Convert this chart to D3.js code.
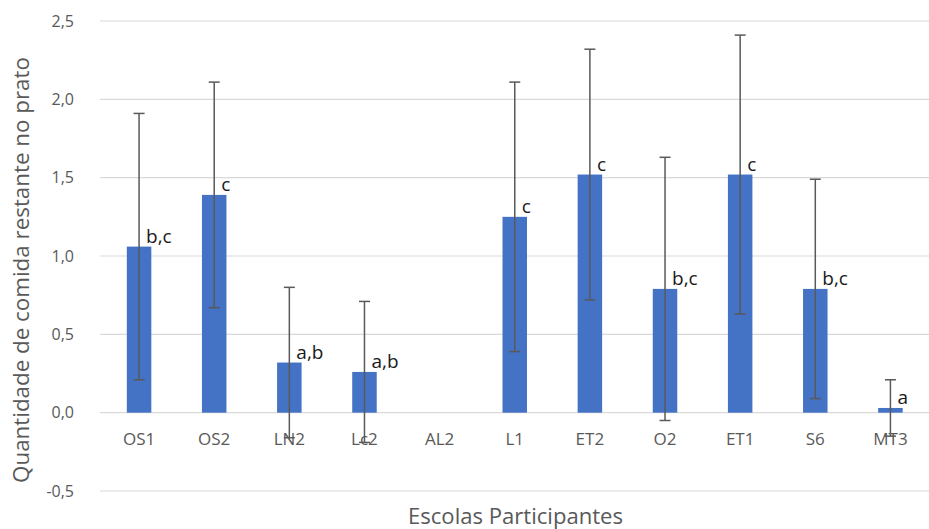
<!DOCTYPE html>
<html>
<head>
<meta charset="utf-8">
<script src="https://cdn.jsdelivr.net/npm/d3@7"></script>
<style>
html,body{margin:0;padding:0;background:#fff;}
svg{display:block;}
text{font-family:"Open Sans","Noto Sans",sans-serif;}
</style>
</head>
<body>
<svg id="chart" width="929" height="529"></svg>
<script>
const categories = ["OS1","OS2","LN2","Lc2","AL2","L1","ET2","O2","ET1","S6","MT3"];
const means      = [1.06, 1.39, 0.32, 0.26, 0, 1.25, 1.52, 0.79, 1.52, 0.79, 0.03];
const errors     = [0.85, 0.72, 0.48, 0.45, null, 0.86, 0.80, 0.84, 0.89, 0.70, 0.18];
const letters    = ["b,c","c","a,b","a,b","","c","c","b,c","c","b,c","a"];
const yTicks     = [-0.5, 0, 0.5, 1.0, 1.5, 2.0, 2.5];
const yTitle = "Quantidade de comida restante no prato";
const xTitle = "Escolas Participantes";

const svg = d3.select("#chart");
const pLeft = 101.5, pRight = 928, pTop = 21, pBottom = 491;

const x = d3.scaleBand().domain(categories).range([pLeft, pRight]).paddingInner(0.674).paddingOuter(0.337);
const y = d3.scaleLinear().domain([-0.5, 2.5]).range([pBottom, pTop]);
const fmt = d => d3.format(".1f")(d).replace(".", ",").replace("\u2212", "-");

// gridlines
svg.append("g").selectAll("line").data(yTicks).join("line")
  .attr("x1", 100).attr("x2", 929)
  .attr("y1", d => y(d)).attr("y2", d => y(d))
  .attr("stroke", "#d9d9d9").attr("stroke-width", 1.2);

// y axis tick labels
const yAxis = d3.axisLeft(y).tickValues(yTicks).tickFormat(fmt).tickSize(0).tickPadding(0);
const ya = svg.append("g").attr("transform", "translate(74,0)").call(yAxis);
ya.select(".domain").remove();
ya.selectAll("text").attr("fill", "#595959").style("font-size", "16px")
  .style("font-family", "'Open Sans','Noto Sans',sans-serif");

// bars
const cx = d => x(d) + x.bandwidth() / 2;
svg.append("g").selectAll("rect").data(categories.map((c, i) => ({c, v: means[i]})).filter(d => d.v > 0))
  .join("rect")
  .attr("x", d => x(d.c)).attr("width", x.bandwidth())
  .attr("y", d => y(d.v)).attr("height", d => y(0) - y(d.v))
  .attr("fill", "#4472c4");

// x axis labels
const xAxis = d3.axisBottom(x).tickSize(0).tickPadding(0);
const xa = svg.append("g").attr("transform", "translate(0,433)").call(xAxis);
xa.select(".domain").remove();
xa.selectAll("text").attr("fill", "#595959").style("font-size", "17px")
  .style("font-family", "'Open Sans','Noto Sans',sans-serif");

// error bars
const eb = svg.append("g").attr("stroke", "#595959").attr("stroke-width", 1.5);
categories.forEach((c, i) => {
  if (errors[i] == null) return;
  const hi = y(means[i] + errors[i]), lo = y(means[i] - errors[i]);
  eb.append("line").attr("x1", cx(c)).attr("x2", cx(c)).attr("y1", hi).attr("y2", lo);
  eb.append("line").attr("x1", cx(c) - 5.5).attr("x2", cx(c) + 5.5).attr("y1", hi).attr("y2", hi);
  eb.append("line").attr("x1", cx(c) - 5.5).attr("x2", cx(c) + 5.5).attr("y1", lo).attr("y2", lo);
});

// letter labels
svg.append("g").selectAll("text").data(categories.map((c, i) => ({c, v: means[i], t: letters[i]})).filter(d => d.t))
  .join("text")
  .attr("x", d => cx(d.c) + 7).attr("y", d => y(d.v) - 4)
  .attr("fill", "#1a1a1a").style("font-size", "19px")
  .text(d => d.t);

// axis titles (font size fitted to the reference text length)
function fit(sel, target) {
  sel.style("font-size", "20px");
  const w = sel.node().getComputedTextLength();
  sel.style("font-size", (20 * target / w).toFixed(2) + "px");
}
const yt = svg.append("text").attr("transform", `translate(29,${(57+483)/2}) rotate(-90)`)
  .attr("text-anchor", "middle").attr("fill", "#595959").text(yTitle);
fit(yt, 426);
const xt = svg.append("text").attr("x", 515.5).attr("y", 524)
  .attr("text-anchor", "middle").attr("fill", "#595959").text(xTitle);
fit(xt, 215);
</script>
</body>
</html>
